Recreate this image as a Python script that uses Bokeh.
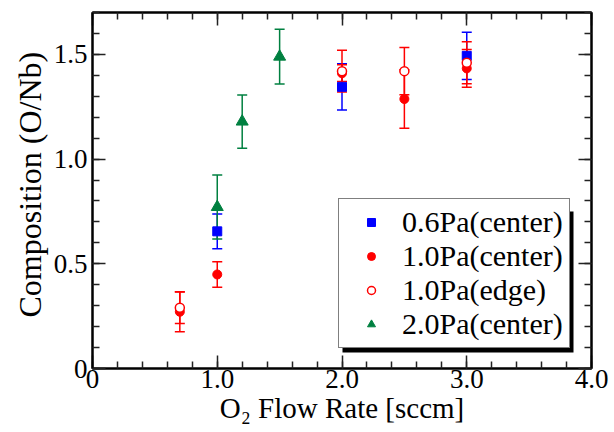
from bokeh.plotting import figure
from bokeh.models import (ColumnDataSource, Whisker, TeeHead, Range1d, LinearAxis,
                          SingleIntervalTicker, CustomJSTickFormatter, Legend, LegendItem,
                          BoxAnnotation, Title)
from bokeh.embed import file_html
from bokeh.resources import INLINE

# ---- data ----
p06_x = [1.0, 2.0, 3.0]
p06_y = [0.655, 1.345, 1.493]
p06_err = [0.083, 0.110, 0.113]

p10c_x = [0.7, 1.0, 2.0, 2.5, 3.0]
p10c_y = [0.271, 0.449, 1.410, 1.287, 1.433]
p10c_err = [0.095, 0.061, 0.040, 0.140, 0.090]

p10e_x = [0.7, 2.0, 2.5, 3.0]
p10e_y = [0.290, 1.420, 1.420, 1.460]
p10e_err = [0.075, 0.100, 0.113, 0.100]

p20_x = [1.0, 1.2, 1.5]
p20_y = [0.771, 1.179, 1.489]
p20_err = [0.153, 0.127, 0.131]

labels = ["0.6Pa(center)", "1.0Pa(center)", "1.0Pa(edge)", "2.0Pa(center)"]
x_title = "O\u2082 Flow Rate [sccm]"
y_title = "Composition (O/Nb)"

FONT = "'Liberation Serif', 'Times New Roman', serif"
BLUE = "#0000ff"
RED = "#ff0000"
GREEN = "#008040"

p = figure(width=614, height=432, output_backend="svg", toolbar_location=None,
           x_range=Range1d(0, 4), y_range=Range1d(0, 1.7),
           min_border_left=92, min_border_right=23, min_border_top=12, min_border_bottom=64)
p.xgrid.visible = False
p.ygrid.visible = False
p.outline_line_color = "black"
p.outline_line_width = 2
p.background_fill_color = "white"
p.border_fill_color = "white"

fmt = CustomJSTickFormatter(code="return tick == 0 ? '0' : tick.toFixed(1);")
blank = CustomJSTickFormatter(code="return '';")

def style_axis(ax, show_labels):
    ax.axis_line_width = 2
    ax.axis_line_color = "black"
    ax.major_tick_in = 13
    ax.major_tick_out = 0
    ax.minor_tick_in = 7
    ax.minor_tick_out = 0
    ax.major_tick_line_width = 1.5
    ax.minor_tick_line_width = 1.5
    ax.major_tick_line_color = "#222222"
    ax.minor_tick_line_color = "#222222"
    ax.major_label_text_font = FONT
    ax.major_label_text_color = "black"
    ax.axis_label_text_font = FONT
    ax.axis_label_text_font_style = "normal"
    ax.axis_label_text_color = "black"
    if not show_labels:
        ax.formatter = blank
        ax.major_label_text_font_size = "1px"
        ax.major_label_standoff = 0
        ax.axis_label_standoff = 0

xa = p.xaxis[0]
xa.ticker = SingleIntervalTicker(interval=1, num_minor_ticks=5)
xa.formatter = fmt
style_axis(xa, True)
xa.major_label_text_font_size = "27px"
xa.major_label_standoff = 1
xa.axis_label = x_title
xa.axis_label_text_font_size = "29px"
xa.axis_label_standoff = 1

ya = p.yaxis[0]
ya.ticker = SingleIntervalTicker(interval=0.5, num_minor_ticks=5)
ya.formatter = fmt
style_axis(ya, True)
ya.major_label_text_font_size = "27px"
ya.major_label_standoff = 5

top = LinearAxis(ticker=SingleIntervalTicker(interval=1, num_minor_ticks=5))
style_axis(top, False)
p.add_layout(top, "above")
right = LinearAxis(ticker=SingleIntervalTicker(interval=0.5, num_minor_ticks=5))
style_axis(right, False)
p.add_layout(right, "right")

# y title, shifted up like the reference
yt = Title(text=y_title, align="left", offset=51, standoff=6,
           text_font=FONT, text_font_size="32px", text_font_style="normal",
           text_color="black")
p.add_layout(yt, "left")

def series(xs, ys, errs, color):
    src = ColumnDataSource(dict(x=xs, y=ys,
                                lo=[a - b for a, b in zip(ys, errs)],
                                hi=[a + b for a, b in zip(ys, errs)]))
    w = Whisker(base="x", lower="lo", upper="hi", source=src, dimension="height",
                line_color=color, line_width=1.5,
                upper_head=TeeHead(size=10, line_color=color, line_width=1.5),
                lower_head=TeeHead(size=10, line_color=color, line_width=1.5))
    w.level = "glyph"
    p.add_layout(w)
    return src

s06 = series(p06_x, p06_y, p06_err, BLUE)
s10c = series(p10c_x, p10c_y, p10c_err, RED)
s10e = series(p10e_x, p10e_y, p10e_err, RED)
s20 = series(p20_x, p20_y, p20_err, GREEN)

r06 = p.scatter("x", "y", source=s06, marker="square", size=9,
                fill_color=BLUE, line_color=BLUE, level="overlay")
r10c = p.scatter("x", "y", source=s10c, marker="circle", size=9,
                 fill_color=RED, line_color=RED, level="overlay")
r10e = p.scatter("x", "y", source=s10e, marker="circle", size=9,
                 fill_color="white", line_color=RED, line_width=1.5, level="overlay")
r20 = p.scatter("x", "y", source=s20, marker="triangle", size=12,
                fill_color=GREEN, line_color=GREEN, level="overlay")

# legend drop shadow
shadow = BoxAnnotation(left=250, right=481, bottom=16, top=157,
                       left_units="screen", right_units="screen",
                       bottom_units="screen", top_units="screen",
                       fill_color="black", fill_alpha=1.0, line_color="black",
                       line_width=0)
p.add_layout(shadow)

items = [LegendItem(label=labels[0], renderers=[r06]),
         LegendItem(label=labels[1], renderers=[r10c]),
         LegendItem(label=labels[2], renderers=[r10e]),
         LegendItem(label=labels[3], renderers=[r20])]
legend = Legend(items=items, location=(246, 20), orientation="vertical",
                label_text_font=FONT, label_text_font_size="30px",
                label_text_color="black",
                glyph_width=52, glyph_height=20, label_standoff=5,
                label_height=30, spacing=0, padding=6, margin=0,
                border_line_color="black", border_line_width=1.5,
                background_fill_color="white", background_fill_alpha=1.0)
p.add_layout(legend, "center")

open("out.html", "w").write(file_html(p, INLINE))
